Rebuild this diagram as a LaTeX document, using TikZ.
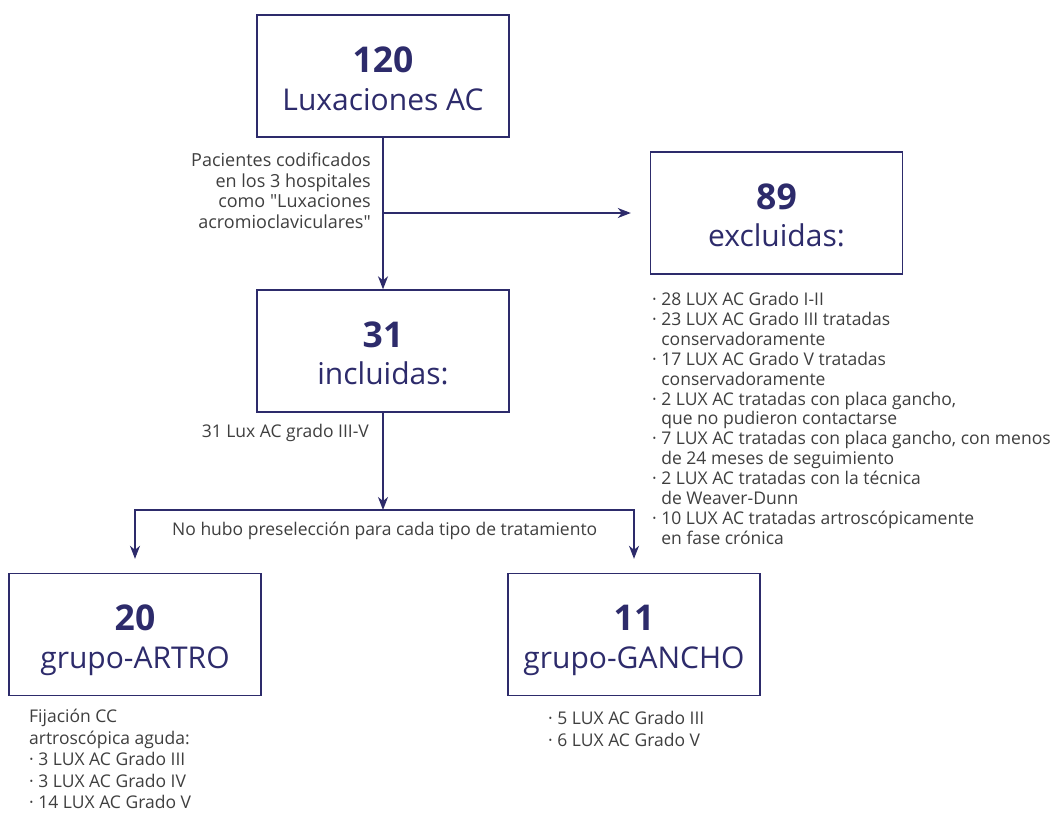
\documentclass[tikz,border=0pt]{standalone}
\usepackage{fontspec}
\setmainfont{Open Sans}
\newfontfamily\qfont{Open Sans}
\usetikzlibrary{arrows.meta}
\definecolor{navy}{HTML}{2D2B6B}
\definecolor{txt}{HTML}{3F3F3F}
\begin{document}
\begin{tikzpicture}[x=1pt,y=-1pt,
  box/.style={draw=navy, line width=1.4pt, minimum width=252pt, minimum height=122pt, inner sep=0pt},
  num/.style={text=navy, font=\fontsize{35.5}{40}\selectfont\bfseries, anchor=base, inner sep=0pt},
  sub/.style={text=navy, font=\fontsize{30}{32}\selectfont, anchor=base, inner sep=0pt},
  note/.style={text=txt, font=\fontsize{17.5}{20.5}\selectfont, inner sep=0pt},
  conn/.style={draw=navy, line width=1.4pt},
  arr/.style={conn, -{Stealth[length=13pt,width=10pt,inset=4pt]}}]
\useasboundingbox (0,0) rectangle (1054,812);
\fill[white] (0,0) rectangle (1054,812);

% boxes
\node[box] (b120) at (383,76) {};
\node[num] (n120) at (383,72) {120};
\node[sub] (s120) at (383,110) {Luxaciones AC};

\node[box] (b31) at (383,351) {};
\node[num] (n31) at (383,347) {31};
\node[sub] (s31) at (383,384) {incluidas:};

\node[box] (b89) at (776.5,213) {};
\node[num] (n89) at (776.5,209) {89};
\node[sub] (s89) at (776.5,246) {excluidas:};

\node[box] (b20) at (135,634.5) {};
\node[num] (n20) at (135,630) {20};
\node[sub] (s20) at (135,668) {grupo-ARTRO};

\node[box] (b11) at (634,634.5) {};
\node[num] (n11) at (634,630) {11};
\node[sub] (s11) at (634,668) {grupo-GANCHO};

% connectors
\coordinate (split) at (383,213);
\coordinate (fork) at (383,510);
\draw[arr] (b120.south) -- (b31.north);
\draw[arr, shorten >=19pt] (split) -- (b89.west);
\draw[arr] (b31.south) -- (fork);
\draw[arr, shorten >=14pt] (fork) -| (b20.north);
\draw[arr, shorten >=14pt] (fork) -| (b11.north);

% notes
\node[note, align=right, anchor=north east, font=\fontsize{18}{20.5}\selectfont] (lbl1) at (371,153)
  {Pacientes codificados\\en los 3 hospitales\\como {\qfont"}Luxaciones\\acromioclaviculares{\qfont"}};
\node[note, anchor=base east] (lbl2) at (369,437) {31 Lux AC grado III-V};
\node[note, anchor=base west] (lbl3) at (172,535) {No hubo preselección para cada tipo de tratamiento};

\node[note, align=left, anchor=north west, font=\fontsize{17.5}{19.9}\selectfont] (excl) at (652,292)
  {· 28 LUX AC Grado I-II\\
   · 23 LUX AC Grado III tratadas\\
   \hphantom{· }conservadoramente\\
   · 17 LUX AC Grado V tratadas\\
   \hphantom{· }conservadoramente\\
   · 2 LUX AC tratadas con placa gancho,\\
   \hphantom{· }que no pudieron contactarse\\
   · 7 LUX AC tratadas con placa gancho, con menos\\
   \hphantom{· }de 24 meses de seguimiento\\
   · 2 LUX AC tratadas con la técnica\\
   \hphantom{· }de Weaver-Dunn\\
   · 10 LUX AC tratadas artroscópicamente\\
   \hphantom{· }en fase crónica};

\node[note, align=left, anchor=north west, font=\fontsize{17.5}{21.5}\selectfont] (artro) at (29,709)
  {Fijación CC\\artroscópica aguda:\\· 3 LUX AC Grado III\\· 3 LUX AC Grado IV\\· 14 LUX AC Grado V};

\node[note, align=left, anchor=north west, font=\fontsize{17.5}{22}\selectfont] (gancho) at (548,711)
  {· 5 LUX AC Grado III\\· 6 LUX AC Grado V};
\end{tikzpicture}
\end{document}
